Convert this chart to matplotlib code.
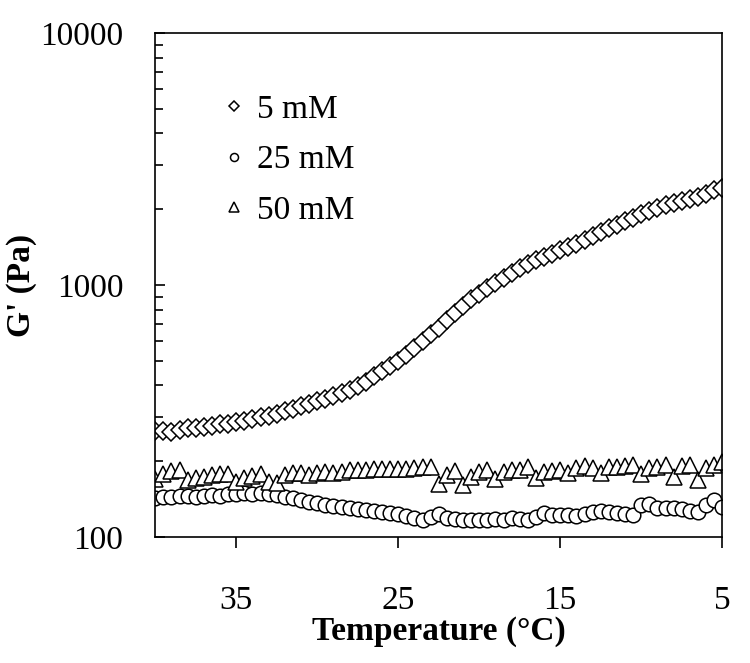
import numpy as np
import matplotlib
matplotlib.use("Agg")
import matplotlib.pyplot as plt
from matplotlib.ticker import FixedLocator, NullFormatter, NullLocator

plt.rcParams['font.family'] = ['Liberation Serif', 'DejaVu Serif']

# temperature sweep, 40 -> 5 C in 0.5 C steps
temps = np.arange(40.0, 4.9, -0.5)

# G' (Pa)
g_5mM = [263, 263, 262, 267, 270, 272, 273, 276, 280, 282,
         286, 290, 295, 299, 303, 309, 315, 322, 331, 337,
         346, 353, 363, 373, 383, 397, 412, 435, 456, 477,
         499, 528, 562, 600, 639, 675, 726, 774, 825, 880,
         921, 973, 1018, 1066, 1116, 1168, 1211, 1256, 1291, 1327,
         1377, 1415, 1454, 1509, 1565, 1623, 1684, 1731, 1795, 1845,
         1913, 1967, 2021, 2078, 2116, 2154, 2194, 2235, 2297, 2382, 2420]
g_25mM = [143, 144, 144, 145, 145, 144, 145, 147, 145, 148,
          148, 150, 148, 150, 148, 147, 144, 143, 140, 138,
          136, 134, 133, 132, 130, 129, 128, 127, 126, 124.5,
          123, 121, 119, 117, 120, 123, 119, 118, 117, 117,
          117, 117, 118, 117, 119, 118, 117, 120, 124.5, 122,
          122, 122, 121, 123, 126, 127, 126, 124.5, 123, 122,
          134, 135, 130, 130, 130, 129, 127, 126, 134, 140, 131]
g_50mM = [170, 178, 183, 185, 168, 171, 173, 176, 178, 178,
          165, 171, 175, 178, 165, 164, 176, 180, 180, 176,
          180, 181, 180, 181, 185, 185, 185, 186, 186, 186,
          186, 186, 188, 190, 190, 162, 176, 183, 161, 173,
          181, 185, 170, 181, 185, 185, 190, 171, 181, 183,
          185, 180, 188, 191, 188, 180, 190, 190, 191, 193,
          178, 188, 190, 193, 173, 191, 193, 168, 188, 193, 199]

labels = ['5 mM', '25 mM', '50 mM']
x_ticks = [35, 25, 15, 5]

fig = plt.figure(figsize=(7.5, 6.63), dpi=100)
ax = fig.add_axes([0.207, 0.19, 0.756, 0.76])

style = dict(linestyle='none', markerfacecolor='white', markeredgecolor='black',
             markeredgewidth=1.1)
ax.plot(temps, g_5mM, marker='D', markersize=9, label=labels[0], **style)
ax.plot(temps, g_25mM, marker='o', markersize=10.5, label=labels[1], **style)
ax.plot(temps, g_50mM, marker='^', markersize=12, label=labels[2], **style)

ax.set_yscale('log')
ax.set_ylim(100, 10000)
ax.set_xlim(40, 5)

ax.xaxis.set_major_locator(FixedLocator(x_ticks))
ax.xaxis.set_minor_locator(NullLocator())
ax.set_yticks([100, 1000, 10000])
ax.set_yticklabels(['100', '1000', '10000'])
ax.yaxis.set_minor_formatter(NullFormatter())

ax.tick_params(axis='x', which='major', direction='out', length=8, width=1.2,
               pad=27, labelsize=24, top=False)
ax.tick_params(axis='y', which='major', direction='in', length=7, width=1.2,
               pad=23, labelsize=24, right=False)
ax.tick_params(axis='y', which='minor', direction='in', length=6, width=1.2,
               right=False)
for s in ax.spines.values():
    s.set_linewidth(1.2)

ax.set_xlabel('Temperature (°C)', fontsize=24, fontweight='bold', labelpad=0)
ax.set_ylabel("G' (Pa)", fontsize=24, fontweight='bold', labelpad=2)

leg = ax.legend(loc='upper left', bbox_to_anchor=(0.1, 0.905), frameon=False,
                fontsize=24, markerscale=0.55, handlelength=0.5,
                handletextpad=0.45, labelspacing=0.6, borderaxespad=0)

fig.savefig('out.png', dpi=100)
